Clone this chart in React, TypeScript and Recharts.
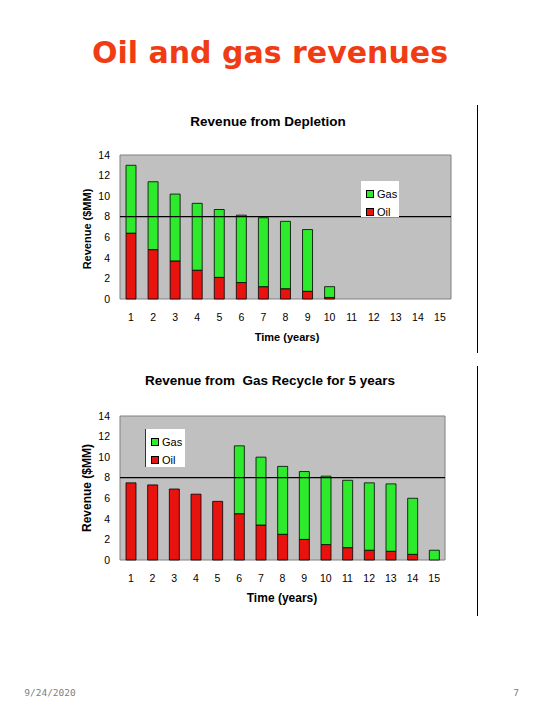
import React from 'react';
import { BarChart, Bar, XAxis, YAxis, CartesianGrid, ReferenceLine, Legend } from 'recharts';

// years on the x axis
const YEARS = [1, 2, 3, 4, 5, 6, 7, 8, 9, 10, 11, 12, 13, 14, 15];
const Y_TICKS = [0, 2, 4, 6, 8, 10, 12, 14];

// Revenue from depletion ($MM)
const DEPLETION_OIL = [6.4, 4.8, 3.7, 2.8, 2.1, 1.6, 1.2, 1.0, 0.75, 0.15, 0, 0, 0, 0, 0];
const DEPLETION_GAS = [6.6, 6.6, 6.5, 6.5, 6.6, 6.55, 6.7, 6.55, 6.0, 1.05, 0, 0, 0, 0, 0];

// Revenue from gas recycle for 5 years ($MM)
const RECYCLE_OIL = [7.5, 7.3, 6.9, 6.4, 5.7, 4.5, 3.4, 2.5, 2.0, 1.5, 1.2, 0.95, 0.85, 0.55, 0];
const RECYCLE_GAS = [0, 0, 0, 0, 0, 6.6, 6.6, 6.6, 6.6, 6.65, 6.55, 6.55, 6.55, 5.45, 0.95];

const GREEN = '#2dea2d';
const RED = '#e8130e';
const FONT = '"Liberation Sans", Arial, sans-serif';

const buildRows = (oil: number[], gas: number[]) =>
  YEARS.map((year, i) => ({ year, oil: oil[i], gas: gas[i] }));

const LegendBox = ({ border }: { border?: boolean }) => (
  <div
    style={{
      background: '#fff',
      borderLeft: border ? '1px solid #333' : 'none',
      width: '100%',
      height: '100%',
      boxSizing: 'border-box',
      padding: '4px 0 0 5px',
      fontFamily: FONT,
      fontSize: 11,
      lineHeight: '18px',
    }}
  >
    {[
      { name: 'Gas', color: GREEN },
      { name: 'Oil', color: RED },
    ].map((item) => (
      <div key={item.name} style={{ display: 'flex', alignItems: 'center' }}>
        <span
          style={{
            display: 'inline-block',
            width: 6,
            height: 6,
            background: item.color,
            border: '1px solid #000',
            marginRight: 3,
          }}
        />
        {item.name}
      </div>
    ))}
  </div>
);

interface PanelProps {
  top: number;
  rows: { year: number; oil: number; gas: number }[];
  marginTop: number;
  marginBottom: number;
  marginRight: number;
  legend: { left: number; top: number; width: number; height: number; border?: boolean };
}

const Panel = ({ top, rows, marginTop, marginBottom, marginRight, legend }: PanelProps) => (
  <div style={{ position: 'absolute', left: 0, top }}>
    <BarChart
      width={540}
      height={260}
      data={rows}
      barSize={10}
      margin={{ top: marginTop, right: marginRight, bottom: marginBottom, left: 60 }}
    >
      <CartesianGrid
        fill="#c0c0c0"
        fillOpacity={1}
        stroke="#808080"
        horizontalCoordinatesGenerator={({ offset }: any) => [offset.top, offset.top + offset.height]}
        verticalCoordinatesGenerator={({ offset }: any) => [offset.left, offset.left + offset.width]}
      />
      <XAxis
        dataKey="year"
        height={40}
        interval={0}
        axisLine={false}
        tickLine={false}
        tickSize={0}
        tickMargin={15}
        tick={{ fontSize: 10.5, fill: '#000', fontFamily: FONT }}
      />
      <YAxis
        width={60}
        domain={[0, 14]}
        ticks={Y_TICKS}
        interval={0}
        axisLine={false}
        tickLine={false}
        tickSize={0}
        tickMargin={10}
        tick={{ fontSize: 10.5, fill: '#000', fontFamily: FONT }}
      />
      <ReferenceLine y={8} stroke="#000" strokeWidth={1.2} />
      <Bar dataKey="oil" stackId="rev" fill={RED} stroke="#000" strokeWidth={0.8} isAnimationActive={false} />
      <Bar dataKey="gas" stackId="rev" fill={GREEN} stroke="#000" strokeWidth={0.8} isAnimationActive={false} />
      <Legend
        layout="vertical"
        align="center"
        verticalAlign="middle"
        wrapperStyle={{
          left: legend.left,
          top: legend.top,
          width: legend.width,
          height: legend.height,
          margin: 0,
        }}
        content={() => <LegendBox border={legend.border} />}
      />
    </BarChart>
  </div>
);

const Text = ({
  x,
  y,
  size,
  bold,
  rotate,
  color = '#000',
  family = FONT,
  children,
}: {
  x: number;
  y: number;
  size: number;
  bold?: boolean;
  rotate?: boolean;
  color?: string;
  family?: string;
  children: React.ReactNode;
}) => (
  <div
    style={{
      position: 'absolute',
      left: x,
      top: y,
      transform: `translate(-50%, -50%)${rotate ? ' rotate(-90deg)' : ''}`,
      fontFamily: family,
      fontSize: size,
      fontWeight: bold ? 'bold' : 'normal',
      color,
      whiteSpace: 'pre',
      lineHeight: 1,
    }}
  >
    {children}
  </div>
);

export default function App() {
  return (
    <div style={{ position: 'absolute', left: 0, top: 0, width: 540, height: 720, background: '#fff' }}>
      <Text x={270} y={53} size={30} bold color="#f03c14" family='"DejaVu Sans", sans-serif'>
        Oil and gas revenues
      </Text>

      <Text x={268} y={122} size={13.5} bold>Revenue from Depletion</Text>
      <Panel
        top={100}
        rows={buildRows(DEPLETION_OIL, DEPLETION_GAS)}
        marginTop={55}
        marginBottom={21}
        marginRight={89}
        legend={{ left: 361, top: 81, width: 38, height: 36 }}
      />
      <Text x={87} y={229} size={11} bold rotate>Revenue ($MM)</Text>
      <Text x={287} y={337} size={11} bold>Time (years)</Text>

      <Text x={270} y={381} size={13.5} bold>Revenue from  Gas Recycle for 5 years</Text>
      <Panel
        top={365}
        rows={buildRows(RECYCLE_OIL, RECYCLE_GAS)}
        marginTop={51}
        marginBottom={25}
        marginRight={95}
        legend={{ left: 145, top: 64, width: 40, height: 38, border: true }}
      />
      <Text x={87} y={488} size={12} bold rotate>Revenue ($MM)</Text>
      <Text x={282} y={598} size={12} bold>Time (years)</Text>

      <div style={{ position: 'absolute', left: 477, top: 105, width: 1, height: 248, background: '#000' }} />
      <div style={{ position: 'absolute', left: 477, top: 366, width: 1, height: 250, background: '#000' }} />

      <Text x={50} y={693} size={9.5} color="#808080" family='"DejaVu Sans Mono", monospace'>9/24/2020</Text>
      <Text x={516} y={693} size={9.5} color="#808080" family='"DejaVu Sans Mono", monospace'>7</Text>
    </div>
  );
}
